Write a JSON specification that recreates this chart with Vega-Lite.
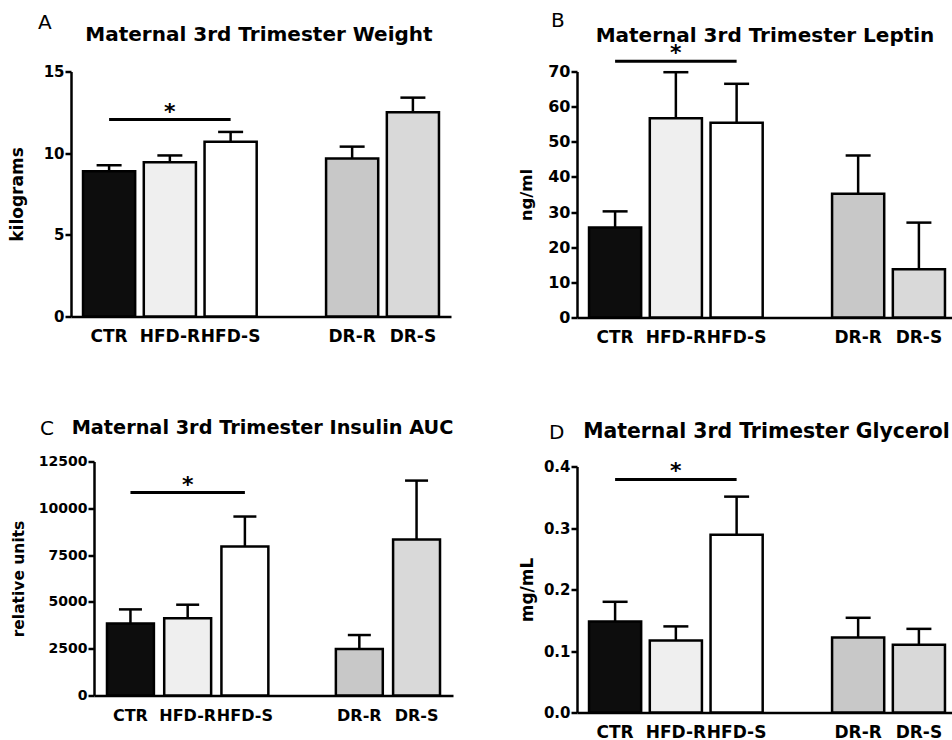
{
 "$schema": "https://vega.github.io/schema/vega-lite/v6.json",
 "background": "white",
 "padding": {"left": 8, "top": 10.5, "right": 0, "bottom": 0},
 "autosize": {"type": "pad"},
 "columns": 2,
 "align": "each",
 "bounds": "flush",
 "spacing": {"row": 144, "column": 124},
 "resolve": {"scale": {"x": "independent", "y": "independent"}},
 "datasets": {
  "bars": [
   {"panel": "A", "group": "CTR", "mean": 8.9, "upper": 9.26},
   {"panel": "A", "group": "HFD-R", "mean": 9.45, "upper": 9.86},
   {"panel": "A", "group": "HFD-S", "mean": 10.7, "upper": 11.3},
   {"panel": "A", "group": "DR-R", "mean": 9.68, "upper": 10.4},
   {"panel": "A", "group": "DR-S", "mean": 12.5, "upper": 13.4},
   {"panel": "B", "group": "CTR", "mean": 25.6, "upper": 30.2},
   {"panel": "B", "group": "HFD-R", "mean": 56.7, "upper": 69.8},
   {"panel": "B", "group": "HFD-S", "mean": 55.4, "upper": 66.5},
   {"panel": "B", "group": "DR-R", "mean": 35.2, "upper": 46.1},
   {"panel": "B", "group": "DR-S", "mean": 13.7, "upper": 27.0},
   {"panel": "C", "group": "CTR", "mean": 3850, "upper": 4600},
   {"panel": "C", "group": "HFD-R", "mean": 4120, "upper": 4850},
   {"panel": "C", "group": "HFD-S", "mean": 7960, "upper": 9560},
   {"panel": "C", "group": "DR-R", "mean": 2480, "upper": 3230},
   {"panel": "C", "group": "DR-S", "mean": 8330, "upper": 11480},
   {"panel": "D", "group": "CTR", "mean": 0.148, "upper": 0.18},
   {"panel": "D", "group": "HFD-R", "mean": 0.117, "upper": 0.14},
   {"panel": "D", "group": "HFD-S", "mean": 0.289, "upper": 0.351},
   {"panel": "D", "group": "DR-R", "mean": 0.122, "upper": 0.154},
   {"panel": "D", "group": "DR-S", "mean": 0.11, "upper": 0.136}
  ],
  "sig": [
   {"panel": "A", "group": "CTR", "group2": "HFD-S", "y": 12.06, "label": "*"},
   {"panel": "B", "group": "CTR", "group2": "HFD-S", "y": 72.9, "label": "*"},
   {"panel": "C", "group": "CTR", "group2": "HFD-S", "y": 10844, "label": "*"},
   {"panel": "D", "group": "CTR", "group2": "HFD-S", "y": 0.379, "label": "*"}
  ]
 },
 "concat": [
  {
   "width": 380, "height": 245,
   "title": {"text": "A", "anchor": "start", "frame": "group", "dx": -33, "offset": -8},
   "layer": [
    {"data": {"name": "bars"}, "transform": [{"filter": "datum.panel === 'A'"}],
     "mark": {"type": "bar", "stroke": "black", "strokeWidth": 2.5},
     "encoding": {
      "x": {"field": "group", "type": "nominal", "sort": null,
            "scale": {"domain": ["CTR", "HFD-R", "HFD-S", " ", "DR-R", "DR-S"], "paddingInner": 0.142, "paddingOuter": 0.198},
            "axis": {"title": "Maternal 3rd Trimester Weight", "titleX": 187.5, "titleY": -276}},
      "y": {"field": "mean", "type": "quantitative", "scale": {"domain": [0, 15], "nice": false},
            "axis": {"title": "kilograms", "values": [0, 5, 10, 15], "tickCount": 4, "labelOverlap": false, "labelFontSize": 15, "titleFontSize": 17, "titlePadding": 16.5}},
      "fill": {"field": "group", "type": "nominal", "legend": null,
               "scale": {"domain": ["CTR", "HFD-R", "HFD-S", "DR-R", "DR-S"], "range": ["#0d0d0d", "#efefef", "#ffffff", "#c8c8c8", "#d9d9d9"]}}
     }},
    {"data": {"name": "bars"}, "transform": [{"filter": "datum.panel === 'A'"}],
     "mark": {"type": "rule", "strokeWidth": 2.5, "color": "black"},
     "encoding": {"x": {"field": "group", "type": "nominal"}, "y": {"field": "mean", "type": "quantitative"}, "y2": {"field": "upper"}}},
    {"data": {"name": "bars"}, "transform": [{"filter": "datum.panel === 'A'"}],
     "mark": {"type": "tick", "color": "black", "thickness": 2.5, "size": 25, "opacity": 1},
     "encoding": {"x": {"field": "group", "type": "nominal"}, "y": {"field": "upper", "type": "quantitative"}}},
    {"data": {"name": "sig"}, "transform": [{"filter": "datum.panel === 'A'"}],
     "mark": {"type": "rule", "strokeWidth": 3, "color": "black"},
     "encoding": {"x": {"field": "group", "type": "nominal"}, "x2": {"field": "group2"}, "y": {"field": "y", "type": "quantitative"}}},
    {"data": {"name": "sig"}, "transform": [{"filter": "datum.panel === 'A'"}],
     "mark": {"type": "text", "fontSize": 22, "fontWeight": "bold", "baseline": "alphabetic", "dy": -1, "color": "black"},
     "encoding": {"x": {"datum": "HFD-R", "type": "nominal"}, "y": {"field": "y", "type": "quantitative"}, "text": {"field": "label"}}}
   ]
  },
  {
   "width": 380, "height": 246,
   "title": {"text": "B", "anchor": "start", "frame": "group", "dx": -26, "offset": -5.5},
   "layer": [
    {"data": {"name": "bars"}, "transform": [{"filter": "datum.panel === 'B'"}],
     "mark": {"type": "bar", "stroke": "black", "strokeWidth": 2.5},
     "encoding": {
      "x": {"field": "group", "type": "nominal", "sort": null,
            "scale": {"domain": ["CTR", "HFD-R", "HFD-S", " ", "DR-R", "DR-S"], "paddingInner": 0.142, "paddingOuter": 0.198},
            "axis": {"title": "Maternal 3rd Trimester Leptin", "titleX": 187.5, "titleY": -276}},
      "y": {"field": "mean", "type": "quantitative", "scale": {"domain": [0, 70], "nice": false},
            "axis": {"title": "ng/ml", "values": [0, 10, 20, 30, 40, 50, 60, 70], "tickCount": 8, "labelOverlap": false, "labelFontSize": 16, "titleFontSize": 16.5, "titlePadding": 13}},
      "fill": {"field": "group", "type": "nominal", "legend": null,
               "scale": {"domain": ["CTR", "HFD-R", "HFD-S", "DR-R", "DR-S"], "range": ["#0d0d0d", "#efefef", "#ffffff", "#c8c8c8", "#d9d9d9"]}}
     }},
    {"data": {"name": "bars"}, "transform": [{"filter": "datum.panel === 'B'"}],
     "mark": {"type": "rule", "strokeWidth": 2.5, "color": "black"},
     "encoding": {"x": {"field": "group", "type": "nominal"}, "y": {"field": "mean", "type": "quantitative"}, "y2": {"field": "upper"}}},
    {"data": {"name": "bars"}, "transform": [{"filter": "datum.panel === 'B'"}],
     "mark": {"type": "tick", "color": "black", "thickness": 2.5, "size": 25, "opacity": 1},
     "encoding": {"x": {"field": "group", "type": "nominal"}, "y": {"field": "upper", "type": "quantitative"}}},
    {"data": {"name": "sig"}, "transform": [{"filter": "datum.panel === 'B'"}],
     "mark": {"type": "rule", "strokeWidth": 3, "color": "black"},
     "encoding": {"x": {"field": "group", "type": "nominal"}, "x2": {"field": "group2"}, "y": {"field": "y", "type": "quantitative"}}},
    {"data": {"name": "sig"}, "transform": [{"filter": "datum.panel === 'B'"}],
     "mark": {"type": "text", "fontSize": 22, "fontWeight": "bold", "baseline": "alphabetic", "dy": -1, "color": "black"},
     "encoding": {"x": {"datum": "HFD-R", "type": "nominal"}, "y": {"field": "y", "type": "quantitative"}, "text": {"field": "label"}}}
   ]
  },
  {
   "width": 382, "height": 234,
   "title": {"text": "C", "anchor": "start", "frame": "group", "dx": -31, "offset": -20},
   "layer": [
    {"data": {"name": "bars"}, "transform": [{"filter": "datum.panel === 'C'"}],
     "mark": {"type": "bar", "stroke": "black", "strokeWidth": 2.5},
     "encoding": {
      "x": {"field": "group", "type": "nominal", "sort": null,
            "scale": {"domain": ["CTR", "HFD-R", "HFD-S", " ", "DR-R", "DR-S"], "range": [23, 382], "paddingInner": 0.18, "paddingOuter": 0.227},
            "axis": {"title": "Maternal 3rd Trimester Insulin AUC", "titleX": 191, "titleY": -262, "titleFontSize": 19.3, "labelFontSize": 16}},
      "y": {"field": "mean", "type": "quantitative", "scale": {"domain": [0, 12500], "nice": false},
            "axis": {"title": "relative units", "values": [0, 2500, 5000, 7500, 10000, 12500], "tickCount": 6, "format": "d", "offset": -23, "labelOverlap": false, "labelFontSize": 14, "titleFontSize": 15.5, "titlePadding": 12}},
      "fill": {"field": "group", "type": "nominal", "legend": null,
               "scale": {"domain": ["CTR", "HFD-R", "HFD-S", "DR-R", "DR-S"], "range": ["#0d0d0d", "#efefef", "#ffffff", "#c8c8c8", "#d9d9d9"]}}
     }},
    {"data": {"name": "bars"}, "transform": [{"filter": "datum.panel === 'C'"}],
     "mark": {"type": "rule", "strokeWidth": 2.5, "color": "black"},
     "encoding": {"x": {"field": "group", "type": "nominal"}, "y": {"field": "mean", "type": "quantitative"}, "y2": {"field": "upper"}}},
    {"data": {"name": "bars"}, "transform": [{"filter": "datum.panel === 'C'"}],
     "mark": {"type": "tick", "color": "black", "thickness": 2.5, "size": 23, "opacity": 1},
     "encoding": {"x": {"field": "group", "type": "nominal"}, "y": {"field": "upper", "type": "quantitative"}}},
    {"data": {"name": "sig"}, "transform": [{"filter": "datum.panel === 'C'"}],
     "mark": {"type": "rule", "strokeWidth": 3, "color": "black"},
     "encoding": {"x": {"field": "group", "type": "nominal"}, "x2": {"field": "group2"}, "y": {"field": "y", "type": "quantitative"}}},
    {"data": {"name": "sig"}, "transform": [{"filter": "datum.panel === 'C'"}],
     "mark": {"type": "text", "fontSize": 22, "fontWeight": "bold", "baseline": "alphabetic", "dy": -1, "color": "black"},
     "encoding": {"x": {"datum": "HFD-R", "type": "nominal"}, "y": {"field": "y", "type": "quantitative"}, "text": {"field": "label"}}}
   ]
  },
  {
   "width": 380, "height": 251,
   "title": {"text": "D", "anchor": "start", "frame": "group", "dx": -28, "offset": -21},
   "layer": [
    {"data": {"name": "bars"}, "transform": [{"filter": "datum.panel === 'D'"}],
     "mark": {"type": "bar", "stroke": "black", "strokeWidth": 2.5},
     "encoding": {
      "x": {"field": "group", "type": "nominal", "sort": null,
            "scale": {"domain": ["CTR", "HFD-R", "HFD-S", " ", "DR-R", "DR-S"], "paddingInner": 0.142, "paddingOuter": 0.198},
            "axis": {"title": "Maternal 3rd Trimester Glycerol", "titleX": 189, "titleY": -275, "titleFontSize": 20.4}},
      "y": {"field": "mean", "type": "quantitative", "scale": {"domain": [0, 0.4], "nice": false, "range": [251, 5]},
            "axis": {"title": "mg/mL", "values": [0, 0.1, 0.2, 0.3, 0.4], "tickCount": 5, "format": ".1f", "labelOverlap": false, "labelFontSize": 15, "titleFontSize": 17, "titlePadding": 7}},
      "fill": {"field": "group", "type": "nominal", "legend": null,
               "scale": {"domain": ["CTR", "HFD-R", "HFD-S", "DR-R", "DR-S"], "range": ["#0d0d0d", "#efefef", "#ffffff", "#c8c8c8", "#d9d9d9"]}}
     }},
    {"data": {"name": "bars"}, "transform": [{"filter": "datum.panel === 'D'"}],
     "mark": {"type": "rule", "strokeWidth": 2.5, "color": "black"},
     "encoding": {"x": {"field": "group", "type": "nominal"}, "y": {"field": "mean", "type": "quantitative"}, "y2": {"field": "upper"}}},
    {"data": {"name": "bars"}, "transform": [{"filter": "datum.panel === 'D'"}],
     "mark": {"type": "tick", "color": "black", "thickness": 2.5, "size": 25, "opacity": 1},
     "encoding": {"x": {"field": "group", "type": "nominal"}, "y": {"field": "upper", "type": "quantitative"}}},
    {"data": {"name": "sig"}, "transform": [{"filter": "datum.panel === 'D'"}],
     "mark": {"type": "rule", "strokeWidth": 3, "color": "black"},
     "encoding": {"x": {"field": "group", "type": "nominal"}, "x2": {"field": "group2"}, "y": {"field": "y", "type": "quantitative"}}},
    {"data": {"name": "sig"}, "transform": [{"filter": "datum.panel === 'D'"}],
     "mark": {"type": "text", "fontSize": 22, "fontWeight": "bold", "baseline": "alphabetic", "dy": -1, "color": "black"},
     "encoding": {"x": {"datum": "HFD-R", "type": "nominal"}, "y": {"field": "y", "type": "quantitative"}, "text": {"field": "label"}}}
   ]
  }
 ],
 "config": {
  "view": {"stroke": null},
  "font": "DejaVu Sans",
  "axis": {"grid": false, "domainColor": "black", "domainWidth": 2.5, "tickColor": "black", "tickWidth": 2.5,
           "labelColor": "black", "titleColor": "black", "labelFontWeight": "bold", "titleFontWeight": "bold",
           "labelFont": "DejaVu Sans", "titleFont": "DejaVu Sans"},
  "axisX": {"ticks": false, "labelAngle": 0, "labelFontSize": 17, "labelPadding": 12, "labelOverlap": false,
            "titleFontSize": 20, "titleAngle": 0, "titleAlign": "center", "titleBaseline": "alphabetic"},
  "axisY": {"tickSize": 6, "labelPadding": 1, "titlePadding": 14, "labelOverlap": false},
  "title": {"font": "DejaVu Sans", "color": "black", "fontWeight": "normal", "fontSize": 20}
 }
}
